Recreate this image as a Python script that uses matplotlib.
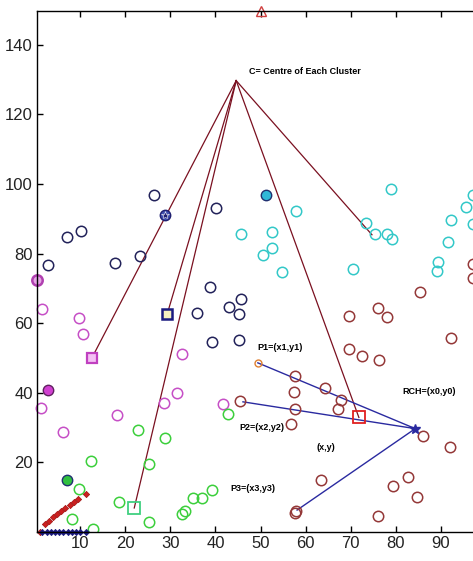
import matplotlib
matplotlib.use("Agg")
import matplotlib.pyplot as plt

plt.rcParams['font.family'] = ['Liberation Sans Narrow', 'Liberation Sans', 'DejaVu Sans']

# cluster points
blue_x = [2.9, 7.1, 10.2, 26.4, 17.7, 23.3, 40.1, 38.8, 35.9, 43.0, 45.7, 45.2, 39.2, 45.2]
blue_y = [76.6, 84.9, 86.6, 96.9, 77.4, 79.4, 93.1, 70.3, 62.9, 64.6, 66.9, 62.6, 54.6, 55.1]

magenta_x = [1.6, 9.8, 10.7, 1.3, 6.2, 18.2, 28.6, 31.5, 41.7, 32.6]
magenta_y = [64.0, 61.4, 56.9, 35.7, 28.6, 33.7, 37.1, 40.0, 36.9, 51.1]

green_x = [12.4, 22.8, 25.3, 9.8, 18.6, 8.2, 12.8, 25.3, 28.8, 32.6, 33.2, 35.1, 37.0, 39.2, 42.8]
green_y = [20.3, 29.4, 19.4, 12.3, 8.6, 3.7, 0.9, 2.9, 27.1, 5.1, 5.9, 9.7, 9.7, 12.0, 34.0]

cyan_x = [57.9, 45.7, 52.5, 52.5, 50.6, 54.8, 78.9, 73.4, 75.4, 78.0, 79.2, 70.5,
          92.2, 91.6, 89.4, 89.1, 95.6, 97.0, 97.0]
cyan_y = [92.3, 85.7, 86.3, 81.7, 79.7, 74.6, 98.6, 88.9, 85.7, 85.7, 84.3, 75.7,
          89.7, 83.4, 77.7, 75.1, 93.4, 96.9, 88.5]

red_x = [85.4, 69.6, 76.1, 78.0, 69.6, 72.5, 76.3, 92.2, 64.3, 67.8, 67.2, 86.0, 92.0,
         63.4, 82.7, 79.4, 84.7, 76.0, 57.6, 57.4, 57.6, 56.8, 57.6, 57.9, 45.5, 97.0, 97.0]
red_y = [69.1, 62.0, 64.3, 61.7, 52.6, 50.6, 49.4, 55.7, 41.4, 38.0, 35.4, 27.7, 24.3,
         14.9, 15.7, 13.1, 10.0, 4.6, 44.9, 40.3, 35.4, 31.1, 5.4, 6.0, 37.7, 77.0, 73.0]

# diamonds near the origin
diag_x = [1.0, 2.2, 3.1, 4.0, 4.9, 5.8, 6.7, 7.7, 8.6, 9.6, 11.3]
diag_y = [0.0, 2.3, 3.3, 4.3, 5.2, 6.0, 6.8, 7.7, 8.6, 9.5, 10.9]
base_x = [1.5, 2.6, 3.5, 4.4, 5.4, 6.3, 7.3, 8.2, 9.1, 10.0, 11.2]
base_y = [0.0] * 11

# centres, reference points
C = (44.6, 129.7)
centres_x = [12.6, 29.3, 22.0, 71.8, 74.7]
centres_y = [50.0, 62.6, 6.9, 32.9, 85.4]
RCH = (84.3, 29.7)
p_x = [49.4, 46.1, 58.1]
p_y = [48.6, 37.4, 6.3]

fig = plt.figure(figsize=(4.73, 5.61), dpi=100)
ax = fig.add_axes([37 / 473, 29 / 561, 1 - 37 / 473, 521 / 561])

ms = 7.5
# lines from C to every cluster centre
for cx, cy in zip(centres_x, centres_y):
    ax.plot([C[0], cx], [C[1], cy], color='#7a1020', lw=0.9, zorder=2)
# lines from RCH to P1, P2, P3
for px, py in zip(p_x, p_y):
    ax.plot([RCH[0], px], [RCH[1], py], color='#2a2aa0', lw=1.0, zorder=2)

ax.plot(blue_x, blue_y, 'o', ms=ms, mfc='none', mec='#22225a', mew=1.1, clip_on=False)
ax.plot(magenta_x, magenta_y, 'o', ms=ms, mfc='none', mec='#c64fc6', mew=1.1, clip_on=False)
ax.plot(green_x, green_y, 'o', ms=ms, mfc='none', mec='#3ccf3c', mew=1.1)
ax.plot(cyan_x, cyan_y, 'o', ms=ms, mfc='none', mec='#33c8c8', mew=1.1)
ax.plot(red_x, red_y, 'o', ms=ms, mfc='none', mec='#943838', mew=1.1)

# seed points
ax.plot([0.4], [72.3], 'o', ms=ms, mfc='#e6a6e6', mec='#b040b0', mew=1.8, clip_on=False)
ax.plot([2.9], [40.9], 'o', ms=ms, mfc='#d040d0', mec='#602060', mew=1.0)
ax.plot([7.1], [14.9], 'o', ms=ms, mfc='#30c040', mec='#203070', mew=1.0)
ax.plot([51.2], [96.9], 'o', ms=ms, mfc='#30b8d8', mec='#203070', mew=1.0)
ax.plot([28.8], [91.1], 'o', ms=ms, mfc='#4050b0', mec='#202070', mew=1.0)
ax.plot([28.8], [91.1], '*', ms=6, mfc='#202070', mec='white', mew=0.4)
ax.plot([49.4], [48.6], 'o', ms=5, mfc='none', mec='#e08030', mew=1.0)

# centre squares
ax.plot([12.6], [50.0], 's', ms=7, mfc='#f4c0f4', mec='#c040c0', mew=1.6)
ax.plot([29.3], [62.6], 's', ms=7, mfc='#f6f0c0', mec='#1a1a80', mew=1.8)
ax.plot([22.0], [6.9], 's', ms=8, mfc='none', mec='#40d080', mew=1.3)
ax.plot([71.8], [32.9], 's', ms=8, mfc='none', mec='#e02020', mew=1.3)
ax.plot([RCH[0]], [RCH[1]], '*', ms=7, mfc='#2a2aa0', mec='#2a2aa0')

ax.plot(diag_x, diag_y, 'D', ms=3.2, mfc='#cc2020', mec='#a01010', mew=0.5, clip_on=False)
ax.plot(base_x, base_y, 'D', ms=3.2, mfc='#1a1a80', mec='#1a1a80', mew=0.5, clip_on=False)
ax.plot([50.1], [149.6], '^', ms=7, mfc='none', mec='#d04040', mew=1.0, clip_on=False)

tfont = dict(fontsize=6.5, color='black', fontweight='bold', va='center')
ax.text(47.5, 132.3, "C= Centre of Each Cluster", **tfont)
ax.text(49.2, 53.1, "P1=(x1,y1)", **tfont)
ax.text(45.4, 29.9, "P2=(x2,y2)", **tfont)
ax.text(43.2, 12.6, "P3=(x3,y3)", **tfont)
ax.text(62.5, 24.3, "(x,y)", **tfont)
ax.text(81.4, 40.3, "RCH=(x0,y0)", **tfont)

ax.set_xlim(0.44, 97.1)
ax.set_ylim(0, 149.7)
ax.set_xticks([10, 20, 30, 40, 50, 60, 70, 80, 90])
ax.set_yticks([20, 40, 60, 80, 100, 120, 140])
ax.tick_params(direction='in', top=True, right=False, length=4, width=1,
               labelsize=12, pad=3, labelcolor='#222222')
ax.spines['right'].set_visible(False)
for s in ['left', 'top', 'bottom']:
    ax.spines[s].set_linewidth(1.0)

fig.savefig("out.png", dpi=100)
